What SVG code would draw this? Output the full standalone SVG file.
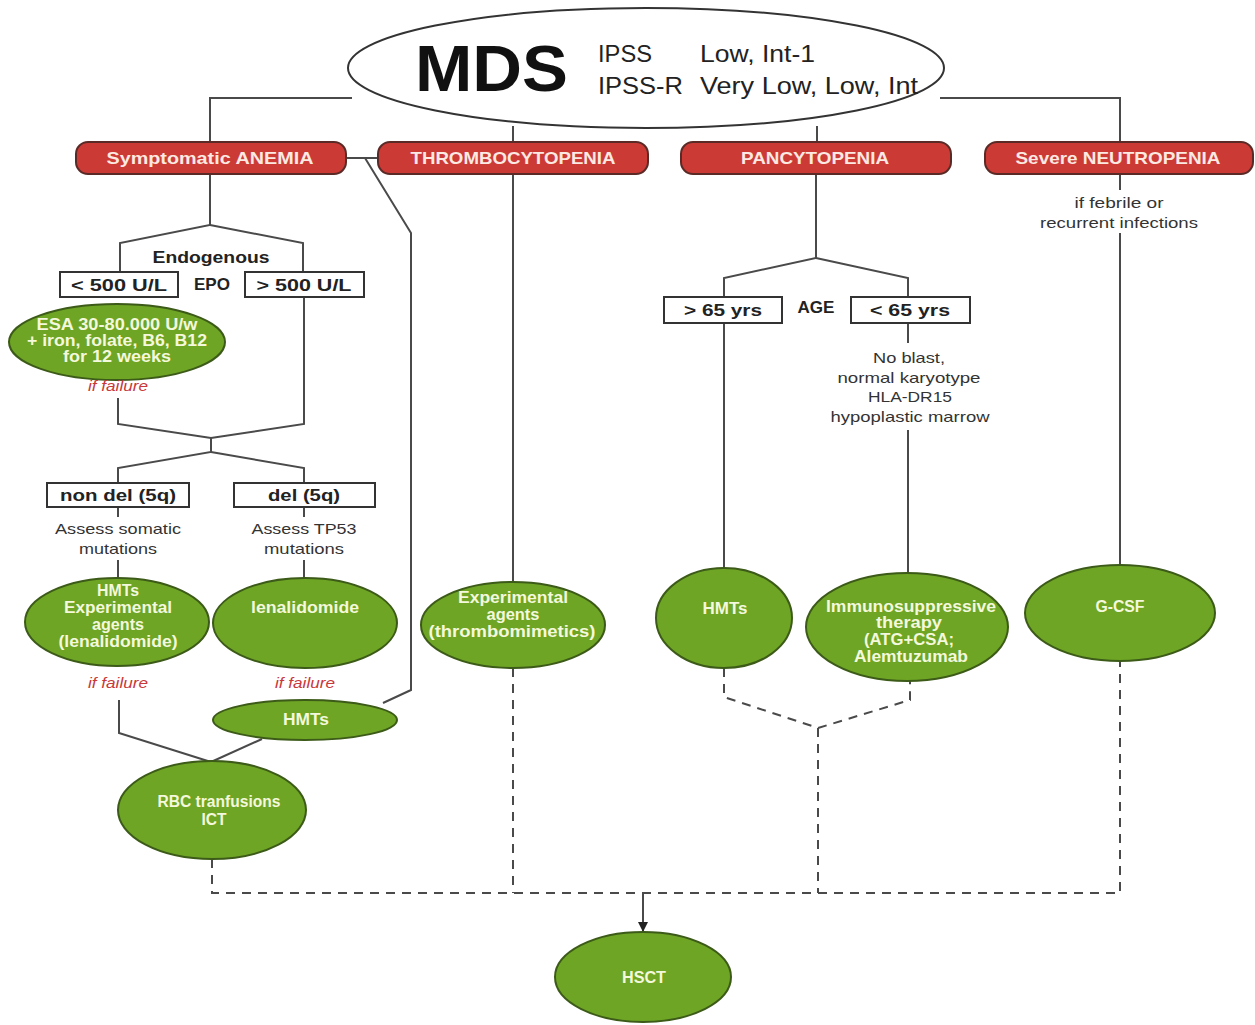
<svg xmlns="http://www.w3.org/2000/svg" width="1255" height="1025" viewBox="0 0 1255 1025">
<style>
.ln{fill:none;stroke:#4a4a4a;stroke-width:2}
.ds{fill:none;stroke:#4a4a4a;stroke-width:2;stroke-dasharray:9 7}
.red{fill:#cc3a36;stroke:#5a2a26;stroke-width:2}
.grn{fill:#6ea524;stroke:#3c5a18;stroke-width:2}
.box{fill:#fff;stroke:#333;stroke-width:2}
.rt{font-family:"Liberation Sans",Arial,sans-serif;font-weight:bold;font-size:17px;fill:#fbe9e2;text-anchor:middle}
.gt{font-family:"Liberation Sans",Arial,sans-serif;font-weight:bold;font-size:16px;fill:#f4f8dc;text-anchor:middle}
.bt{font-family:"Liberation Sans",Arial,sans-serif;font-weight:bold;font-size:17px;fill:#222;text-anchor:middle}
.nt{font-family:"Liberation Sans",Arial,sans-serif;font-size:15px;fill:#333;text-anchor:middle}
.ft{font-family:"Liberation Sans",Arial,sans-serif;font-style:italic;font-size:14px;fill:#c9383a;text-anchor:middle}
.hd{font-family:"Liberation Sans",Arial,sans-serif;font-size:24px;fill:#222}
</style>
<defs>
<marker id="arr" markerWidth="10" markerHeight="10" refX="9" refY="5" orient="auto" markerUnits="userSpaceOnUse">
<path d="M0,0 L10,5 L0,10 Z" fill="#222"/>
</marker>
</defs>
<rect width="1255" height="1025" fill="#fff"/>

<g id="connectors">
<path class="ln" d="M352,98 H210 V143"/>
<path class="ln" d="M940,98 H1120 V143"/>
<path class="ln" d="M513,126 V143"/>
<path class="ln" d="M817,126 V143"/>
<path class="ln" d="M346,158 H378"/>
<path class="ln" d="M365,158 L411,233 V690 L383,703"/>
<path class="ln" d="M210,174 V225 L120,243 V272"/>
<path class="ln" d="M210,225 L303,243 V272"/>
<path class="ln" d="M118,398 V424 L211,438 L304,424 V297"/>
<path class="ln" d="M211,438 V452 L118,468 V483"/>
<path class="ln" d="M211,452 L304,468 V483"/>
<path class="ln" d="M118,507 V517"/>
<path class="ln" d="M118,560 V579"/>
<path class="ln" d="M304,507 V517"/>
<path class="ln" d="M304,560 V578"/>
<path class="ln" d="M119,700 V733 L211,762"/>
<path class="ln" d="M262,739 L211,762"/>
<path class="ln" d="M513,174 V583"/>
<path class="ln" d="M816,174 V258 L724,278 V297"/>
<path class="ln" d="M816,258 L908,278 V297"/>
<path class="ln" d="M724,323 V570"/>
<path class="ln" d="M908,323 V343"/>
<path class="ln" d="M908,430 V573"/>
<path class="ln" d="M1120,174 V190"/>
<path class="ln" d="M1120,233 V565"/>
<path class="ds" d="M212,859 V893 H1120 V662"/>
<path class="ds" d="M513,668 V893"/>
<path class="ds" d="M724,668 V697 L818,728 L910,700 V681"/>
<path class="ds" d="M818,728 V893"/>
<path class="ln" d="M643,893 V931" marker-end="url(#arr)"/>
</g>

<g id="mds">
<ellipse cx="646" cy="68" rx="298" ry="60" fill="#fff" stroke="#333" stroke-width="2"/>
<text x="415" y="91" font-family="Liberation Sans,Arial,sans-serif" font-weight="bold" font-size="64" fill="#111" textLength="153" lengthAdjust="spacingAndGlyphs">MDS</text>
<text class="hd" x="598" y="62" textLength="54" lengthAdjust="spacingAndGlyphs">IPSS</text>
<text class="hd" x="700" y="62" textLength="115" lengthAdjust="spacingAndGlyphs">Low, Int-1</text>
<text class="hd" x="598" y="94" textLength="85" lengthAdjust="spacingAndGlyphs">IPSS-R</text>
<text class="hd" x="700" y="94" textLength="218" lengthAdjust="spacingAndGlyphs">Very Low, Low, Int</text>
</g>

<g id="anemia">
<rect class="red" x="76" y="142" width="270" height="32" rx="12"/>
<text class="rt" x="210" y="164" textLength="207" lengthAdjust="spacingAndGlyphs">Symptomatic ANEMIA</text>
</g>
<g id="thrombo">
<rect class="red" x="378" y="142" width="270" height="32" rx="12"/>
<text class="rt" x="513" y="164" textLength="205" lengthAdjust="spacingAndGlyphs">THROMBOCYTOPENIA</text>
</g>
<g id="pancyto">
<rect class="red" x="681" y="142" width="270" height="32" rx="12"/>
<text class="rt" x="815" y="164" textLength="148" lengthAdjust="spacingAndGlyphs">PANCYTOPENIA</text>
</g>
<g id="neutro">
<rect class="red" x="985" y="142" width="268" height="32" rx="12"/>
<text class="rt" x="1118" y="164" textLength="205" lengthAdjust="spacingAndGlyphs">Severe NEUTROPENIA</text>
</g>

<g id="epo">
<text class="bt" x="211" y="263" textLength="117" lengthAdjust="spacingAndGlyphs">Endogenous</text>
<text class="bt" x="212" y="290" textLength="36" lengthAdjust="spacingAndGlyphs">EPO</text>
</g>
<g id="epo-low">
<rect class="box" x="60" y="272" width="118" height="25"/>
<text class="bt" x="119" y="291" textLength="96" lengthAdjust="spacingAndGlyphs">&lt; 500 U/L</text>
</g>
<g id="epo-high">
<rect class="box" x="245" y="272" width="119" height="25"/>
<text class="bt" x="304" y="291" textLength="95" lengthAdjust="spacingAndGlyphs">&gt; 500 U/L</text>
</g>

<g id="esa">
<ellipse class="grn" cx="117" cy="342" rx="108" ry="38"/>
<text class="gt" x="117" y="330" textLength="161" lengthAdjust="spacingAndGlyphs">ESA 30-80.000 U/w</text>
<text class="gt" x="117" y="346" textLength="180" lengthAdjust="spacingAndGlyphs">+ iron, folate, B6, B12</text>
<text class="gt" x="117" y="362" textLength="108" lengthAdjust="spacingAndGlyphs">for 12 weeks</text>
</g>
<text class="ft" x="118" y="391" textLength="60" lengthAdjust="spacingAndGlyphs">if failure</text>

<g id="nondel">
<rect class="box" x="47" y="483" width="142" height="24"/>
<text class="bt" x="118" y="501" textLength="116" lengthAdjust="spacingAndGlyphs">non del (5q)</text>
</g>
<g id="del">
<rect class="box" x="234" y="483" width="141" height="24"/>
<text class="bt" x="304" y="501" textLength="72" lengthAdjust="spacingAndGlyphs">del (5q)</text>
</g>
<text class="nt" x="118" y="534" textLength="126" lengthAdjust="spacingAndGlyphs">Assess somatic</text>
<text class="nt" x="118" y="554" textLength="78" lengthAdjust="spacingAndGlyphs">mutations</text>
<text class="nt" x="304" y="534" textLength="105" lengthAdjust="spacingAndGlyphs">Assess TP53</text>
<text class="nt" x="304" y="554" textLength="80" lengthAdjust="spacingAndGlyphs">mutations</text>

<g id="hmts-exp">
<ellipse class="grn" cx="117" cy="622" rx="92" ry="44"/>
<text class="gt" x="118" y="596" textLength="42" lengthAdjust="spacingAndGlyphs">HMTs</text>
<text class="gt" x="118" y="613" textLength="108" lengthAdjust="spacingAndGlyphs">Experimental</text>
<text class="gt" x="118" y="630" textLength="52" lengthAdjust="spacingAndGlyphs">agents</text>
<text class="gt" x="118" y="647" textLength="119" lengthAdjust="spacingAndGlyphs">(lenalidomide)</text>
</g>
<g id="lenalidomide">
<ellipse class="grn" cx="305" cy="623" rx="92" ry="45"/>
<text class="gt" x="305" y="613" textLength="108" lengthAdjust="spacingAndGlyphs">lenalidomide</text>
</g>
<text class="ft" x="118" y="688" textLength="60" lengthAdjust="spacingAndGlyphs">if failure</text>
<text class="ft" x="305" y="688" textLength="60" lengthAdjust="spacingAndGlyphs">if failure</text>

<g id="hmts-anemia">
<ellipse class="grn" cx="305" cy="720" rx="92" ry="20"/>
<text class="gt" x="306" y="725" textLength="46" lengthAdjust="spacingAndGlyphs">HMTs</text>
</g>

<g id="rbc">
<ellipse class="grn" cx="212" cy="810" rx="94" ry="49"/>
<text class="gt" x="219" y="807" textLength="123" lengthAdjust="spacingAndGlyphs">RBC tranfusions</text>
<text class="gt" x="214" y="825" textLength="25" lengthAdjust="spacingAndGlyphs">ICT</text>
</g>

<g id="exp-thrombo">
<ellipse class="grn" cx="513" cy="625" rx="92" ry="43"/>
<text class="gt" x="513" y="603" textLength="110" lengthAdjust="spacingAndGlyphs">Experimental</text>
<text class="gt" x="513" y="620" textLength="53" lengthAdjust="spacingAndGlyphs">agents</text>
<text class="gt" x="512" y="637" textLength="167" lengthAdjust="spacingAndGlyphs">(thrombomimetics)</text>
</g>

<g id="age">
<text class="bt" x="816" y="313" textLength="37" lengthAdjust="spacingAndGlyphs">AGE</text>
</g>
<g id="age-high">
<rect class="box" x="664" y="297" width="118" height="26"/>
<text class="bt" x="723" y="316" textLength="78" lengthAdjust="spacingAndGlyphs">&gt; 65 yrs</text>
</g>
<g id="age-low">
<rect class="box" x="851" y="297" width="119" height="26"/>
<text class="bt" x="910" y="316" textLength="80" lengthAdjust="spacingAndGlyphs">&lt; 65 yrs</text>
</g>
<text class="nt" x="909" y="363" textLength="72" lengthAdjust="spacingAndGlyphs">No blast,</text>
<text class="nt" x="909" y="383" textLength="143" lengthAdjust="spacingAndGlyphs">normal karyotype</text>
<text class="nt" x="910" y="402" textLength="84" lengthAdjust="spacingAndGlyphs">HLA-DR15</text>
<text class="nt" x="910" y="422" textLength="159" lengthAdjust="spacingAndGlyphs">hypoplastic marrow</text>

<g id="hmts-pancyto">
<ellipse class="grn" cx="724" cy="618" rx="68" ry="50"/>
<text class="gt" x="725" y="614" textLength="45" lengthAdjust="spacingAndGlyphs">HMTs</text>
</g>
<g id="ist">
<ellipse class="grn" cx="907" cy="627" rx="101" ry="54"/>
<text class="gt" x="911" y="612" textLength="170" lengthAdjust="spacingAndGlyphs">Immunosuppressive</text>
<text class="gt" x="909" y="628" textLength="66" lengthAdjust="spacingAndGlyphs">therapy</text>
<text class="gt" x="909" y="645" textLength="90" lengthAdjust="spacingAndGlyphs">(ATG+CSA;</text>
<text class="gt" x="911" y="662" textLength="114" lengthAdjust="spacingAndGlyphs">Alemtuzumab</text>
</g>

<text class="nt" x="1119" y="208" textLength="89" lengthAdjust="spacingAndGlyphs">if febrile or</text>
<text class="nt" x="1119" y="228" textLength="158" lengthAdjust="spacingAndGlyphs">recurrent infections</text>
<g id="gcsf">
<ellipse class="grn" cx="1120" cy="613" rx="95" ry="48"/>
<text class="gt" x="1120" y="612" textLength="49" lengthAdjust="spacingAndGlyphs">G-CSF</text>
</g>

<g id="hsct">
<ellipse class="grn" cx="643" cy="977" rx="88" ry="45"/>
<text class="gt" x="644" y="983" textLength="44" lengthAdjust="spacingAndGlyphs">HSCT</text>
</g>
</svg>
